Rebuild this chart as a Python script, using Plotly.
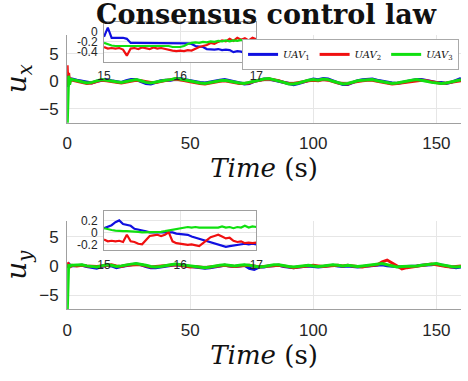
import plotly.graph_objects as go

# ---------------- data ----------------
t_start = [0.0, 0.3, 0.6, 1.0, 1.4]
t_main = [float(v) for v in range(2, 162, 2)]

ux_uav1_start = [1.2, -1.0, 0.6, 0.2, 0.4]
ux_uav2_start = [2.9, -0.8, 1.5, -0.4, 0.5]
ux_uav3_start = [-8.5, -1.8, 1.0, -0.6, 0.3]

ux_uav1 = [0.4, 0.2, 0.0, -0.2, -0.3, 0.0, 0.2, 0.3, 0.1, -0.1, -0.2, 0.1, 0.3, 0.3, 0.0, -0.4,
           -0.5, -0.2, 0.1, 0.2, 0.2, 0.4, 0.5, 0.3, 0.1, -0.1, -0.2, -0.3, -0.1, 0.0, 0.2, 0.3,
           0.1, -0.1, -0.2, -0.5, -0.4, 0.0, 0.2, 0.4, 0.4, 0.2, 0.0, -0.2, -0.4, -0.6, -0.4, -0.1,
           0.2, 0.4, 0.3, 0.5, 0.4, 0.1, -0.2, -0.6, -0.6, -0.2, 0.1, 0.3, 0.4, 0.4, 0.2, 0.0,
           -0.2, -0.3, -0.4, -0.2, 0.0, 0.2, 0.3, 0.3, 0.1, -0.1, -0.2, -0.2, -0.4, -0.2, 0.2, 0.5]
ux_uav2 = [0.2, 0.0, -0.2, -0.4, -0.3, 0.0, 0.2, 0.1, -0.1, -0.2, -0.3, -0.1, 0.1, 0.2, 0.1, -0.1,
           -0.2, -0.2, 0.0, 0.1, 0.3, 0.4, 0.3, 0.1, -0.1, -0.3, -0.4, -0.5, -0.3, -0.1, 0.0, 0.1,
           -0.1, -0.3, -0.4, -0.4, -0.3, 0.0, 0.2, 0.3, 0.4, 0.3, 0.1, -0.2, -0.4, -0.4, -0.3, -0.1,
           0.1, 0.2, 0.1, 0.3, 0.2, -0.1, -0.3, -0.4, -0.5, -0.2, 0.0, 0.1, 0.2, 0.2, 0.0, -0.2,
           -0.3, -0.5, -0.4, -0.3, -0.1, 0.0, 0.1, 0.2, 0.1, -0.1, -0.3, -0.4, -0.3, -0.2, 0.0, 0.1]
ux_uav3 = [0.3, 0.1, -0.1, -0.3, -0.2, 0.1, 0.3, 0.2, 0.0, -0.1, -0.2, 0.0, 0.2, 0.3, 0.1, -0.2,
           -0.3, -0.1, 0.1, 0.2, 0.3, 0.5, 0.4, 0.2, 0.0, -0.2, -0.3, -0.4, -0.2, 0.0, 0.1, 0.2,
           0.0, -0.2, -0.3, -0.4, -0.2, 0.1, 0.3, 0.4, 0.5, 0.3, 0.1, -0.2, -0.5, -0.5, -0.3, 0.0,
           0.2, 0.3, 0.2, 0.4, 0.3, 0.0, -0.3, -0.5, -0.4, -0.1, 0.1, 0.2, 0.3, 0.3, 0.1, -0.1,
           -0.3, -0.4, -0.3, -0.1, 0.1, 0.2, 0.3, 0.2, 0.0, -0.2, -0.3, -0.4, -0.3, -0.1, 0.1, 0.3]

uy_uav1_start = [0.0, 0.3, -0.2, 0.2, 0.0]
uy_uav2_start = [0.6, 0.4, -0.3, 0.1, -0.1]
uy_uav3_start = [-8.5, -0.6, 0.3, -0.2, 0.1]

uy_uav1 = [0.0, 0.1, 0.1, -0.1, -0.3, -0.4, -0.1, 0.1, 0.0, -0.3, -0.1, 0.1, 0.2, 0.3, 0.2, -0.1,
           -0.3, -0.3, -0.2, 0.0, 0.1, 0.2, 0.1, 0.0, -0.1, -0.2, -0.3, -0.4, -0.3, -0.2, 0.0, 0.1,
           0.0, -0.1, 0.0, 0.1, -0.4, -0.6, -0.2, -0.2, 0.0, 0.1, 0.1, -0.1, -0.2, -0.3, -0.2, -0.1,
           0.0, -0.1, -0.2, -0.1, 0.0, 0.1, 0.0, -0.1, 0.0, -0.1, -0.2, -0.1, 0.0, 0.1, 0.2, 0.2,
           0.0, -0.1, -0.2, -0.2, -0.1, -0.1, 0.0, 0.1, 0.1, 0.2, 0.3, 0.1, -0.1, -0.2, -0.3, -0.2]
uy_uav2 = [0.1, 0.0, 0.1, 0.0, -0.1, -0.1, 0.0, 0.1, 0.2, 0.0, -0.1, 0.1, 0.2, 0.2, 0.2, 0.0,
           -0.2, -0.1, 0.0, 0.1, 0.2, 0.2, 0.1, 0.0, -0.2, -0.1, -0.2, -0.3, -0.2, -0.1, 0.1, 0.1,
           0.0, -0.1, 0.0, 0.1, 0.1, 0.0, -0.2, -0.1, 0.0, 0.1, 0.1, 0.0, -0.2, -0.3, -0.2, -0.1,
           0.0, 0.1, 0.0, -0.1, 0.0, 0.1, 0.1, 0.0, 0.1, 0.0, -0.1, -0.2, 0.0, 0.1, 0.2, 0.7,
           1.0, 0.5, 0.0, -0.5, -0.3, -0.2, -0.1, 0.0, 0.1, 0.3, 0.2, 0.0, -0.1, -0.2, -0.1, 0.0]
uy_uav3 = [0.1, 0.2, 0.2, 0.0, -0.1, -0.2, 0.0, 0.2, 0.1, -0.1, 0.0, 0.2, 0.3, 0.4, 0.3, 0.1,
           -0.1, -0.2, -0.1, 0.1, 0.2, 0.3, 0.2, 0.1, 0.0, -0.1, -0.2, -0.3, -0.2, 0.0, 0.1, 0.2,
           0.1, 0.0, 0.1, 0.2, 0.1, -0.1, -0.2, -0.1, 0.1, 0.2, 0.2, 0.0, -0.1, -0.2, -0.1, 0.0,
           0.1, 0.0, -0.1, 0.0, 0.1, 0.2, 0.1, 0.0, 0.1, 0.0, -0.1, 0.0, 0.1, 0.2, 0.3, 0.4,
           0.2, 0.0, -0.2, -0.1, -0.1, -0.1, 0.0, 0.1, 0.2, 0.3, 0.4, 0.2, 0.0, -0.1, -0.2, -0.1]

t_zoom = [15.0, 15.05, 15.1, 15.15, 15.2, 15.25, 15.3, 15.35, 15.4, 15.45, 15.5, 15.55, 15.6, 15.65,
          15.7, 15.75, 15.8, 15.85, 15.9, 15.95, 16.0, 16.05, 16.1, 16.15, 16.2, 16.25, 16.3, 16.35,
          16.4, 16.45, 16.5, 16.55, 16.6, 16.65, 16.7, 16.75, 16.8, 16.85, 16.9, 16.95, 17.0]

ux_zoom_uav1 = [-0.1, 0.08, -0.12, -0.12, -0.13, -0.12, -0.14, -0.22, -0.22, -0.22, -0.22, -0.22,
                -0.22, -0.22, -0.22, -0.22, -0.22, -0.22, -0.22, -0.22, -0.22, -0.22, -0.23, -0.24,
                -0.28, -0.29, -0.3, -0.34, -0.35, -0.35, -0.34, -0.36, -0.35, -0.36, -0.4, -0.38,
                -0.39, -0.42, -0.38, -0.52, -0.37]
ux_zoom_uav2 = [-0.3, -0.33, -0.32, -0.33, -0.32, -0.35, -0.47, -0.33, -0.32, -0.34, -0.31, -0.33,
                -0.34, -0.31, -0.33, -0.32, -0.34, -0.35, -0.37, -0.38, -0.37, -0.38, -0.36, -0.37,
                -0.33, -0.3, -0.28, -0.26, -0.22, -0.24, -0.2, -0.17, -0.19, -0.14, -0.18, -0.12,
                -0.16, -0.13, -0.17, -0.12, -0.15]
ux_zoom_uav3 = [-0.22, -0.25, -0.27, -0.28, -0.28, -0.29, -0.28, -0.28, -0.28, -0.28, -0.29, -0.28,
                -0.28, -0.28, -0.28, -0.28, -0.28, -0.28, -0.3, -0.3, -0.3, -0.28, -0.24, -0.22,
                -0.21, -0.22, -0.2, -0.21, -0.19, -0.2, -0.18, -0.19, -0.17, -0.19, -0.17, -0.18,
                -0.16, -0.19, -0.17, -0.18, -0.17]

uy_zoom_uav1 = [0.07, 0.1, 0.12, 0.17, 0.2, 0.14, 0.12, 0.11, 0.06, 0.05, 0.04, 0.02, 0.0, 0.0,
                0.0, 0.0, 0.0, 0.0, 0.0, -0.02, -0.03, -0.03, -0.04, -0.07, -0.09, -0.1, -0.12,
                -0.14, -0.17, -0.19, -0.21, -0.23, -0.24, -0.23, -0.22, -0.21, -0.2, -0.19, -0.2,
                -0.19, -0.2]
uy_zoom_uav2 = [-0.12, -0.15, -0.14, -0.15, -0.14, -0.16, -0.04, -0.15, -0.16, -0.19, -0.2, -0.13,
                -0.06, -0.05, -0.04, -0.06, -0.04, 0.0, -0.15, -0.18, -0.19, -0.2, -0.21, -0.2,
                -0.22, -0.23, -0.18, -0.13, -0.08, -0.06, -0.04, -0.07, -0.1, -0.09, -0.14, -0.16,
                -0.15, -0.18, -0.17, -0.18, -0.17]
uy_zoom_uav3 = [0.07, 0.05, 0.04, 0.03, 0.02, 0.02, 0.02, 0.02, 0.01, 0.01, 0.0, 0.0, 0.0, 0.0,
                0.0, 0.01, 0.02, 0.03, 0.05, 0.06, 0.07, 0.08, 0.09, 0.08, 0.09, 0.08, 0.08, 0.09,
                0.08, 0.09, 0.08, 0.1, 0.08, 0.09, 0.07, 0.09, 0.08, 0.11, 0.08, 0.1, 0.09]

names = ["<i>UAV</i><sub>1</sub>", "<i>UAV</i><sub>2</sub>", "<i>UAV</i><sub>3</sub>"]
colors = ["#1010e0", "#f01010", "#10e010"]

# ---------------- figure ----------------
W, H = 468, 381
fig = go.Figure()

main_ux = [ux_uav1_start + ux_uav1, ux_uav2_start + ux_uav2, ux_uav3_start + ux_uav3]
main_uy = [uy_uav1_start + uy_uav1, uy_uav2_start + uy_uav2, uy_uav3_start + uy_uav3]
t_full = t_start + t_main
zx = [ux_zoom_uav1, ux_zoom_uav2, ux_zoom_uav3]
zy = [uy_zoom_uav1, uy_zoom_uav2, uy_zoom_uav3]

for i in range(3):
    fig.add_trace(go.Scatter(x=t_full, y=main_ux[i], mode="lines", name=names[i],
                             line=dict(color=colors[i], width=3), xaxis="x", yaxis="y",
                             showlegend=True))
for i in range(3):
    fig.add_trace(go.Scatter(x=t_full, y=main_uy[i], mode="lines", name=names[i],
                             line=dict(color=colors[i], width=3), xaxis="x2", yaxis="y2",
                             showlegend=False))
for i in range(3):
    fig.add_trace(go.Scatter(x=t_zoom, y=zx[i], mode="lines", name=names[i],
                             line=dict(color=colors[i], width=2.2), xaxis="x3", yaxis="y3",
                             showlegend=False))
for i in range(3):
    fig.add_trace(go.Scatter(x=t_zoom, y=zy[i], mode="lines", name=names[i],
                             line=dict(color=colors[i], width=2.2), xaxis="x4", yaxis="y4",
                             showlegend=False))


def px(v):
    return v / W


def py(v):
    return 1 - v / H


tickc = "#262626"
gridc = "#e6e6e6"
axc = "#a0a0a0"
serif = "DejaVu Serif"

main_x = dict(range=[0, 160], domain=[px(62), 1.0], tickvals=[0, 50, 100, 150],
              showgrid=True, gridcolor=gridc, zeroline=False, showline=True, linecolor=axc,
              ticks="", tickfont=dict(family="Liberation Sans", size=17, color=tickc),
              ticklabelstandoff=5,
              title=dict(text="<i>Time</i> (s)", font=dict(family=serif, size=26, color="#111"),
                         standoff=3))
main_y_common = dict(tickvals=[-5, 0, 5], showgrid=True, gridcolor=gridc, zeroline=False,
                     showline=True, linecolor=axc, ticks="",
                     tickfont=dict(family="Liberation Sans", size=17, color=tickc),
                     ticklabelstandoff=4)

inset_x = dict(range=[15, 17], domain=[px(100), px(257)], tickvals=[15, 16, 17],
               showgrid=True, gridcolor=gridc, zeroline=False, showline=True, mirror=True,
               linecolor=axc, ticks="", tickfont=dict(family="Liberation Sans", size=12, color=tickc),
               ticklabelstandoff=3)
inset_y_common = dict(showgrid=True, gridcolor=gridc, zeroline=False, showline=True, mirror=True,
                      linecolor=axc, ticks="",
                      tickfont=dict(family="Liberation Sans", size=12, color=tickc),
                      ticklabelstandoff=3)

fig.update_layout(
    width=W, height=H,
    margin=dict(l=0, r=0, t=0, b=0),
    paper_bgcolor="white", plot_bgcolor="white",
    title=dict(text="<b>Consensus control law</b>", x=px(266), xanchor="center",
               y=py(15), yanchor="middle",
               font=dict(family=serif, size=27, color="#111")),
    xaxis=dict(main_x, anchor="y"),
    yaxis=dict(main_y_common, range=[-7.5, 8.4], domain=[py(123), py(35)], anchor="x",
               title=dict(text="<i>u</i><sub><i>x</i></sub>",
                          font=dict(family=serif, size=28, color="#111"), standoff=10)),
    xaxis2=dict(main_x, anchor="y2"),
    yaxis2=dict(main_y_common, range=[-7.4, 7.6], domain=[py(310), py(222)], anchor="x2",
                title=dict(text="<i>u</i><sub><i>y</i></sub>",
                           font=dict(family=serif, size=28, color="#111"), standoff=10)),
    xaxis3=dict(inset_x, anchor="y3"),
    yaxis3=dict(inset_y_common, range=[-0.59, 0.19], tickvals=[-0.4, -0.2, 0],
                ticktext=["-0.4", "-0.2", "0"], domain=[py(62), py(22)], anchor="x3"),
    xaxis4=dict(inset_x, anchor="y4"),
    yaxis4=dict(inset_y_common, range=[-0.3, 0.35], tickvals=[-0.2, 0, 0.2],
                ticktext=["-0.2", "0", "0.2"], domain=[py(251), py(212)], anchor="x4"),
    legend=dict(orientation="h", x=px(466), xanchor="right", y=py(39), yanchor="top",
                bgcolor="white", bordercolor="#aaaaaa", borderwidth=1,
                font=dict(family=serif, size=10, color="#111"),
                itemwidth=30, tracegroupgap=0, traceorder="normal"),
)

fig.write_html("out.html")
